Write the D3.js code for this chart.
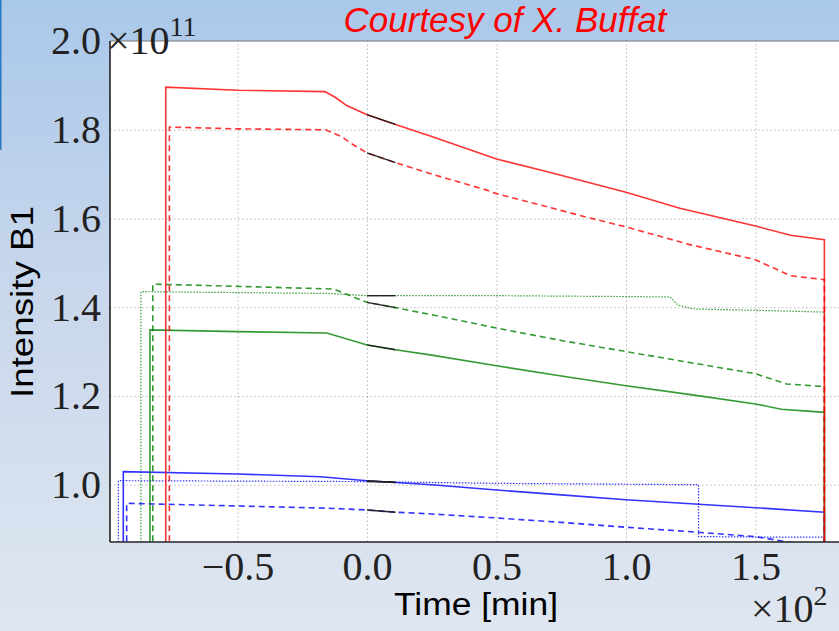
<!DOCTYPE html>
<html>
<head>
<meta charset="utf-8">
<script src="https://cdn.jsdelivr.net/npm/d3@7"></script>
<style>
  body { margin: 0; }
  svg { display: block; }
</style>
</head>
<body>
<div id="chart"></div>
<script>
// time in units of 100 min, intensity in units of 1e11
var xTicks = [-0.5, 0.0, 0.5, 1.0, 1.5];
var yTicks = [1.0, 1.2, 1.4, 1.6, 1.8];

var redSolid = [[-0.777,0.85],[-0.777,1.896],[-0.5,1.889],[-0.162,1.886],[-0.12,1.872],[-0.08,1.855],[0,1.834],[0.11,1.812],[0.25,1.785],[0.436,1.747],[0.5,1.734],[0.693,1.706],[1.0,1.659],[1.208,1.623],[1.5,1.583],[1.635,1.562],[1.766,1.552],[1.766,0.85]];
var redDashed = [[-0.763,0.85],[-0.763,1.806],[-0.5,1.802],[-0.16,1.80],[-0.1,1.785],[-0.05,1.765],[0,1.748],[0.11,1.726],[0.25,1.70],[0.456,1.665],[0.5,1.656],[0.861,1.601],[1.0,1.581],[1.247,1.541],[1.5,1.507],[1.635,1.471],[1.766,1.462],[1.766,0.85]];
var greenSolid = [[-0.838,0.85],[-0.838,1.349],[-0.5,1.345],[-0.155,1.342],[0,1.315],[0.11,1.304],[0.25,1.292],[0.5,1.268],[0.75,1.245],[1.0,1.223],[1.25,1.203],[1.5,1.182],[1.6,1.17],[1.766,1.163],[1.766,0.85]];
var greenDashed = [[-0.827,0.85],[-0.827,1.452],[-0.5,1.447],[-0.13,1.441],[0,1.411],[0.11,1.399],[0.25,1.383],[0.5,1.353],[0.75,1.325],[1.0,1.30],[1.25,1.275],[1.5,1.25],[1.62,1.227],[1.766,1.221],[1.766,0.85]];
var greenDotted = [[-0.873,0.85],[-0.873,1.435],[-0.5,1.433],[-0.15,1.431],[0,1.426],[0.11,1.426],[0.5,1.426],[1.0,1.424],[1.17,1.423],[1.2,1.405],[1.26,1.396],[1.5,1.393],[1.766,1.389],[1.766,0.85]];
var blueSolid = [[-0.941,0.85],[-0.941,1.0295],[-0.5,1.024],[-0.18,1.018],[0,1.009],[0.11,1.005],[0.25,1.0],[0.5,0.988],[0.75,0.977],[1.0,0.966],[1.25,0.957],[1.5,0.948],[1.766,0.938],[1.766,0.85]];
var blueDashed = [[-0.928,0.85],[-0.928,0.958],[-0.5,0.952],[-0.15,0.947],[0,0.943],[0.11,0.938],[0.25,0.934],[0.5,0.925],[0.75,0.915],[1.0,0.904],[1.25,0.894],[1.5,0.883],[1.62,0.871],[1.7,0.866],[1.766,0.864],[1.766,0.85]];
var blueDotted = [[-0.96,0.85],[-0.96,1.009],[-0.5,1.008],[0,1.007],[0.11,1.006],[0.5,1.003],[1.0,1.001],[1.28,1.0],[1.28,0.883],[1.5,0.882],[1.766,0.882],[1.766,0.85]];

var series = [
	{name: "greenDotted", data: greenDotted, color: "#008000", dash: "1.5,1.5"},
	{name: "blueDotted", data: blueDotted, color: "#0000ff", dash: "1.5,1.5"},
	{name: "blueDashed", data: blueDashed, color: "#0000ff", dash: "6,4"},
	{name: "blueSolid", data: blueSolid, color: "#0000ff", dash: null},
	{name: "greenDashed", data: greenDashed, color: "#008000", dash: "6,4"},
	{name: "greenSolid", data: greenSolid, color: "#008000", dash: null},
	{name: "redDashed", data: redDashed, color: "#ff0000", dash: "6,4"},
	{name: "redSolid", data: redSolid, color: "#ff0000", dash: null}
];

var W = 839, H = 631,
		margin = {top: 41, right: 0, bottom: 89, left: 110},
		width = W - margin.left - margin.right,
		height = H - margin.top - margin.bottom;

var xScale = d3.scaleLinear().domain([-0.9923, 1.8224]).range([0, width]);
var yScale = d3.scaleLinear().domain([0.8708, 2.0]).range([height, 0]);

var svg = d3.select("#chart").append("svg")
		.attr("width", W)
		.attr("height", H);

// slide background
var defs = svg.append("defs");
var grad = defs.append("linearGradient").attr("id", "bg")
		.attr("x1", 0).attr("y1", 0).attr("x2", 0).attr("y2", 1);
grad.append("stop").attr("offset", "0%").attr("stop-color", "#aac8ea");
grad.append("stop").attr("offset", "45%").attr("stop-color", "#c8d7ec");
grad.append("stop").attr("offset", "100%").attr("stop-color", "#dfe6f0");
svg.append("rect").attr("width", W).attr("height", H).attr("fill", "url(#bg)");
svg.append("rect").attr("x", 0).attr("y", 0).attr("width", 1.5).attr("height", 150).attr("fill", "#2a78bd");

defs.append("clipPath").attr("id", "clip")
	.append("rect").attr("width", width).attr("height", height);

var g = svg.append("g").attr("transform", "translate(" + margin.left + "," + margin.top + ")");

g.append("rect").attr("width", width).attr("height", height).attr("fill", "#fff");

// grid
var xAxis = d3.axisBottom(xScale).tickValues(xTicks).tickSize(-height).tickPadding(10)
		.tickFormat(function(d) { return d3.format(".1f")(d).replace("-", "\u2212"); });
var yAxis = d3.axisLeft(yScale).tickValues(yTicks).tickSize(-width).tickPadding(9)
		.tickFormat(d3.format(".1f"));

g.append("g").attr("class", "x axis")
		.attr("transform", "translate(0," + height + ")")
		.call(xAxis);
g.append("g").attr("class", "y axis")
		.call(yAxis);

g.selectAll(".domain").remove();
g.selectAll(".tick line")
		.attr("stroke", "#b8b8b8")
		.attr("stroke-width", 1)
		.attr("stroke-dasharray", "1.5,2.5");
g.selectAll(".tick text")
		.attr("fill", "#222")
		.style("font-family", "'Liberation Serif', serif")
		.style("font-size", "40px");

// lines
var line = d3.line()
		.x(function(d) { return xScale(d[0]); })
		.y(function(d) { return yScale(d[1]); });

var body = g.append("g").attr("clip-path", "url(#clip)");

body.selectAll(".series")
	.data(series, function(d) { return d.name; })
	.enter().append("path")
		.attr("class", "series")
		.attr("d", function(d) { return line(d.data); })
		.attr("fill", "none")
		.attr("stroke", function(d) { return d.color; })
		.attr("stroke-opacity", 0.8)
		.attr("stroke-width", function(d) { return d.dash === "1.5,1.5" ? 1.2 : 1.6; })
		.attr("stroke-dasharray", function(d) { return d.dash; });

// short black pieces right after t = 0
body.selectAll(".black")
	.data(series)
	.enter().append("path")
		.attr("class", "black")
		.attr("d", function(d) {
			return line(d.data.filter(function(p) { return p[0] >= 0 && p[0] <= 0.11; }));
		})
		.attr("fill", "none")
		.attr("stroke", "#222")
		.attr("stroke-width", 1.4);

// frame
g.append("line").attr("x1", 0).attr("x2", width).attr("y1", 0).attr("y2", 0)
		.attr("stroke", "#777").attr("stroke-width", 1.2);
g.append("line").attr("x1", 0).attr("x2", 0).attr("y1", 0).attr("y2", height)
		.attr("stroke", "#222").attr("stroke-width", 1.6);
g.append("line").attr("x1", 0).attr("x2", width).attr("y1", height).attr("y2", height)
		.attr("stroke", "#222").attr("stroke-width", 1.6);

// top y label with offset multiplier
svg.append("text")
		.attr("x", margin.left - 9)
		.attr("y", margin.top + 13)
		.attr("text-anchor", "end")
		.style("font-family", "'Liberation Serif', serif")
		.style("font-size", "40px")
		.attr("fill", "#222")
		.text("2.0");
svg.append("text")
		.attr("x", margin.left - 3)
		.attr("y", margin.top + 13)
		.style("font-family", "'Liberation Serif', serif")
		.style("font-size", "40px")
		.attr("fill", "#222")
		.text("\u00d710")
	.append("tspan")
		.attr("dy", -18)
		.style("font-size", "28px")
		.text("11");

// x offset multiplier
svg.append("text")
		.attr("x", 751)
		.attr("y", 622)
		.style("font-family", "'Liberation Serif', serif")
		.style("font-size", "40px")
		.attr("fill", "#222")
		.text("\u00d710")
	.append("tspan")
		.attr("dy", -17)
		.style("font-size", "28px")
		.text("2");

// axis labels
svg.append("text")
		.attr("x", 476)
		.attr("y", 615)
		.attr("text-anchor", "middle")
		.attr("textLength", 164)
		.attr("lengthAdjust", "spacingAndGlyphs")
		.style("font-family", "'Liberation Sans', Arial, sans-serif")
		.style("font-size", "31px")
		.attr("fill", "#000")
		.text("Time [min]");

svg.append("text")
		.attr("transform", "translate(33,302) rotate(-90)")
		.attr("text-anchor", "middle")
		.attr("textLength", 192)
		.attr("lengthAdjust", "spacingAndGlyphs")
		.style("font-family", "'Liberation Sans', Arial, sans-serif")
		.style("font-size", "31px")
		.attr("fill", "#000")
		.text("Intensity B1");

// credit
svg.append("text")
		.attr("x", 505)
		.attr("y", 32)
		.attr("text-anchor", "middle")
		.style("font-family", "'Liberation Sans', Arial, sans-serif")
		.style("font-style", "italic")
		.style("font-size", "35px")
		.attr("fill", "#ff0000")
		.text("Courtesy of X. Buffat");
</script>
</body>
</html>
